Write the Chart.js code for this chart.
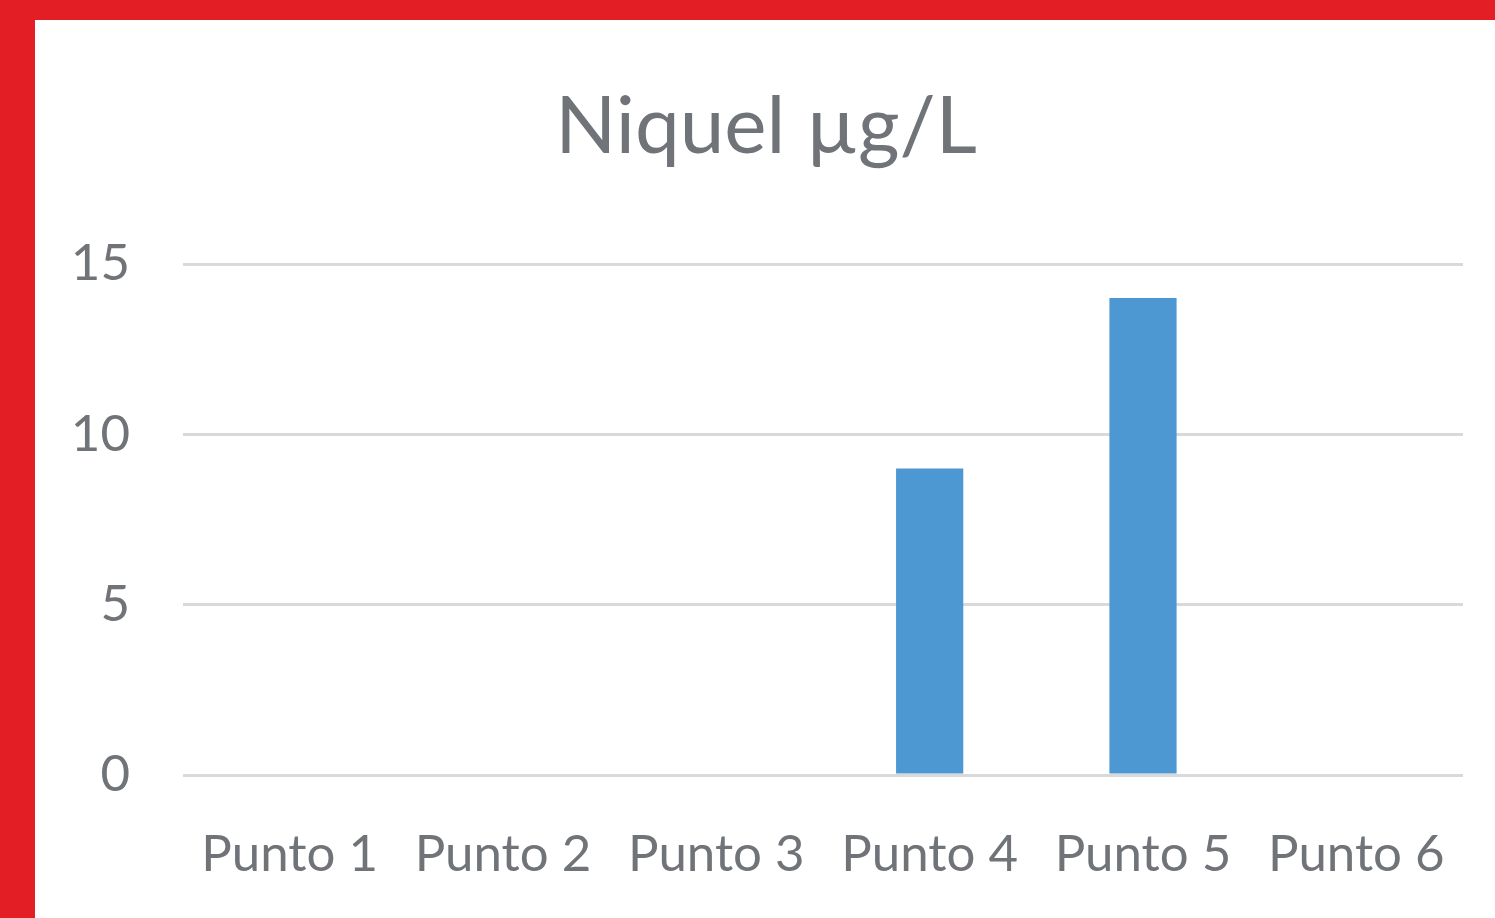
<!DOCTYPE html>
<html>
<head>
<meta charset="utf-8">
<script src="https://cdn.jsdelivr.net/npm/chart.js@4"></script>
<style>
  html, body { margin: 0; padding: 0; background: #e31e25; }
  body { width: 1495px; height: 918px; overflow: hidden; position: relative; }
  #frame { position: absolute; left: 35px; top: 20px; width: 1460px; height: 898px; background: #fff; }
</style>
</head>
<body>
<div id="frame"><canvas id="chart" width="1460" height="898"></canvas></div>
<script>
// Chart data
const categories = ['Punto 1', 'Punto 2', 'Punto 3', 'Punto 4', 'Punto 5', 'Punto 6'];
const niquelValues = [0, 0, 0, 9, 14, 0];
const yTicks = [0, 5, 10, 15];

const textColor = '#707478';
const gridColor = '#d9d9d9';

const ctx = document.getElementById('chart').getContext('2d');
new Chart(ctx, {
  type: 'bar',
  data: {
    labels: categories,
    datasets: [{
      label: 'Niquel µg/L',
      data: niquelValues,
      backgroundColor: '#4d97d2',
      borderWidth: 0,
      categoryPercentage: 1,
      barPercentage: 0.315
    }]
  },
  options: {
    responsive: false,
    animation: false,
    // left padding keeps the title a bit right of the canvas centre, like the original
    layout: { padding: { left: 34, right: 32, top: 0, bottom: 0 } },
    plugins: {
      legend: { display: false },
      tooltip: { enabled: false },
      title: {
        display: true,
        text: 'Niquel µg/L',
        color: textColor,
        font: { family: 'Lato', size: 80, weight: 'normal', lineHeight: 1.2 },
        padding: { top: 59, bottom: 89 }
      }
    },
    scales: {
      x: {
        grid: { display: false },
        border: { display: false },
        ticks: {
          color: textColor,
          font: { family: 'Lato', size: 51, lineHeight: 1.2 },
          padding: 41,
          maxRotation: 0,
          autoSkip: false
        },
        afterFit: scale => { scale.height = 143; }
      },
      y: {
        min: 0,
        max: 15,
        afterBuildTicks: scale => { scale.ticks = yTicks.map(v => ({ value: v })); },
        grid: { color: gridColor, lineWidth: 3, drawTicks: false },
        border: { display: false },
        ticks: {
          color: textColor,
          font: { family: 'Lato', size: 51, lineHeight: 1.2 },
          padding: 53
        },
        afterFit: scale => { scale.width = 114; }
      }
    }
  }
});
</script>
</body>
</html>
